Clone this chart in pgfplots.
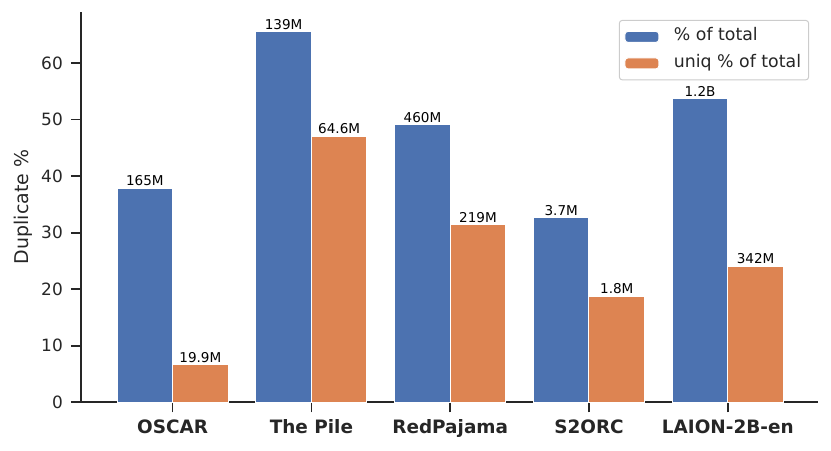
\documentclass[border=0pt]{standalone}
\usepackage{pgfplots}
\pgfplotsset{compat=1.18}
\usepackage{fontspec}
\setmainfont{DejaVu Sans}
\definecolor{sbblue}{HTML}{4C72B0}
\definecolor{sborange}{HTML}{DD8452}
\definecolor{sbtext}{HTML}{262626}
\begin{document}
\begin{tikzpicture}
\useasboundingbox (0,0) rectangle (831bp,451bp);
\begin{axis}[
  at={(81bp,48.7bp)}, anchor=south west,
  scale only axis, width=737bp, height=390.6bp,
  xmin=-0.66, xmax=4.65, ymin=0, ymax=69.1,
  axis x line=bottom, axis y line=left,
  axis line style={-, line width=1.8bp, color=sbtext},
  xtick={0,1,2,3,4},
  xticklabels={OSCAR,The Pile,RedPajama,S2ORC,LAION-2B-en},
  ytick={0,10,20,30,40,50,60},
  tick align=outside,
  major tick length=10bp,
  every tick/.style={line width=1.6bp, color=sbtext},
  minor tick num=0,
  xticklabel style={font=\bfseries\fontsize{18.5}{18.5}\selectfont, text=sbtext, inner sep=0pt, yshift=-7bp},
  yticklabel style={font=\fontsize{17}{17}\selectfont, text=sbtext, inner sep=0pt, xshift=-8bp},
  /pgf/number format/assume math mode=true,
  ylabel={Duplicate \%},
  ylabel style={at={(rel axis cs:0,0.5)}, yshift=67.5bp, anchor=north, inner sep=0pt, font=\fontsize{19}{19}\selectfont, text=sbtext},
  ybar, bar width=0.4,
  nodes near coords,
  point meta=explicit symbolic,
  every node near coord/.append style={font=\fontsize{13.6}{13.6}\selectfont, text=black, inner sep=1.5bp},
  legend image code/.code={\fill[#1] (0bp,-5.5bp) rectangle (34bp,5.5bp);},
  legend cell align=left,
  legend style={at={(0.988,0.979)}, anchor=north east, draw=black!20, line width=1bp, rounded corners=3bp,
    font=\fontsize{17.4}{17.4}\selectfont, text=sbtext, row sep=5.5bp, inner xsep=5.1bp, inner ysep=6bp,
    nodes={inner sep=2.5bp, text height=12bp, text depth=4bp}, /tikz/every odd column/.append style={column sep=12bp}},
]
\addplot+[bar shift=-0.2, fill=sbblue, draw=white, line width=1bp] coordinates {
  (0,37.9) [165M]
  (1,65.6) [139M]
  (2,49.1) [460M]
  (3,32.7) [3.7M]
  (4,53.8) [1.2B]
};
\addplot+[bar shift=0.2, fill=sborange, draw=white, line width=1bp] coordinates {
  (0,6.7) [19.9M]
  (1,47.1) [64.6M]
  (2,31.4) [219M]
  (3,18.8) [1.8M]
  (4,24.1) [342M]
};
\legend{\% of total, uniq \% of total}
\end{axis}
\end{tikzpicture}
\end{document}
